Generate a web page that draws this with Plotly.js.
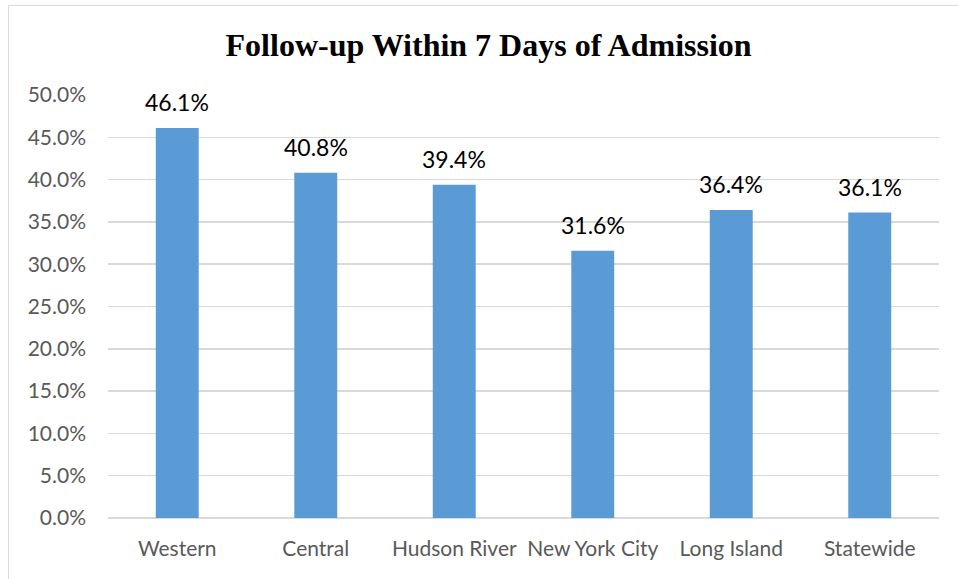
<!DOCTYPE html>
<html>
<head>
<meta charset="utf-8">
<script src="https://cdn.plot.ly/plotly-3.0.1.min.js"></script>
<style>
  html, body { margin: 0; padding: 0; background: #ffffff; }
  #wrap { position: relative; width: 958px; height: 579px; overflow: hidden; }
  #frame { position: absolute; left: 8px; top: 5px; width: 960px; height: 600px; border: 1.5px solid #d9d9d9; box-sizing: border-box; }
  #chart { position: absolute; left: 0; top: 0; width: 958px; height: 579px; }
</style>
</head>
<body>
<div id="wrap">
  <div id="frame"></div>
  <div id="chart"></div>
</div>
<script>
const regions = ["Western", "Central", "Hudson River", "New York City", "Long Island", "Statewide"];
const followUpPct = [46.1, 40.8, 39.4, 31.6, 36.4, 36.1];
const yTicks = [0, 5, 10, 15, 20, 25, 30, 35, 40, 45, 50];
const chartTitle = "Follow-up Within 7 Days of Admission";

const labelFont = "Lato, 'Open Sans', sans-serif";

const trace = {
  type: "bar",
  x: regions,
  y: followUpPct,
  marker: { color: "#5b9bd5" },
  hoverinfo: "x+y"
};

const annotations = regions.map((r, i) => ({
  x: r,
  y: followUpPct[i],
  xref: "x",
  yref: "y",
  text: followUpPct[i].toFixed(1) + "%",
  showarrow: false,
  yanchor: "bottom",
  yshift: 10,
  font: { family: labelFont, size: 23, color: "#000000" }
}));

const layout = {
  width: 958,
  height: 579,
  paper_bgcolor: "rgba(0,0,0,0)",
  plot_bgcolor: "rgba(0,0,0,0)",
  margin: { l: 108, r: 19, t: 95, b: 61, pad: 0 },
  title: {
    text: "<b>" + chartTitle + "</b>",
    font: { family: "'Liberation Serif', 'Times New Roman', serif", size: 32, color: "#000000" },
    x: 0.51,
    xanchor: "center",
    y: 1 - 45 / 579,
    yanchor: "middle"
  },
  bargap: 0.69,
  showlegend: false,
  xaxis: {
    type: "category",
    showgrid: false,
    showline: false,
    zeroline: false,
    ticks: "",
    ticklabelstandoff: 16,
    tickfont: { family: labelFont, size: 21, color: "#595959" }
  },
  yaxis: {
    range: [0, 50],
    tickvals: yTicks,
    ticktext: yTicks.map(v => v.toFixed(1) + "%"),
    showgrid: true,
    gridcolor: "#d9d9d9",
    gridwidth: 1.5,
    zeroline: true,
    zerolinecolor: "#d9d9d9",
    zerolinewidth: 1.5,
    showline: false,
    ticks: "",
    ticklabelstandoff: 21,
    tickfont: { family: labelFont, size: 21, color: "#595959" }
  },
  annotations: annotations
};

Plotly.newPlot("chart", [trace], layout, { displayModeBar: false, staticPlot: true });
</script>
</body>
</html>
